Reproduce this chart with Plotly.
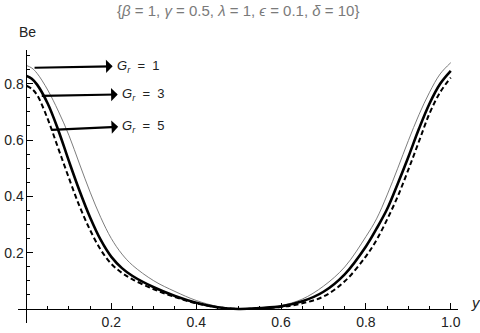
import plotly.graph_objects as go

# y positions across the channel
y_pts = [0, 0.0125, 0.025, 0.05, 0.075, 0.1, 0.125, 0.15, 0.175, 0.2, 0.225, 0.25, 0.3, 0.35, 0.4,
         0.45, 0.5, 0.55, 0.6, 0.65, 0.7, 0.75, 0.8, 0.825, 0.85, 0.875, 0.9, 0.925, 0.95, 0.975, 1.0]

# Bejan number for Gr = 1, 3, 5
be_gr1 = [0.865, 0.856, 0.837, 0.778, 0.703, 0.617, 0.515, 0.415, 0.325, 0.25, 0.195, 0.155, 0.10, 0.062, 0.03,
          0.009, 0.0, 0.004, 0.012, 0.035, 0.081, 0.149, 0.257, 0.32, 0.405, 0.50, 0.598, 0.69, 0.77, 0.835, 0.875]
be_gr3 = [0.828, 0.818, 0.797, 0.73, 0.635, 0.525, 0.42, 0.325, 0.245, 0.185, 0.145, 0.117, 0.077, 0.046, 0.022,
          0.006, 0.0, 0.003, 0.009, 0.027, 0.061, 0.123, 0.222, 0.285, 0.355, 0.445, 0.54, 0.64, 0.73, 0.80, 0.846]
be_gr5 = [0.793, 0.782, 0.76, 0.675, 0.57, 0.465, 0.365, 0.28, 0.21, 0.16, 0.128, 0.105, 0.07, 0.042, 0.02,
          0.006, 0.0, 0.002, 0.007, 0.02, 0.044, 0.098, 0.187, 0.245, 0.318, 0.40, 0.495, 0.595, 0.695, 0.77, 0.822]

x_ticks = [0.2, 0.4, 0.6, 0.8, 1.0]
x_tick_text = ["0.2", "0.4", "0.6", "0.8", "1.0"]
y_ticks = [0.2, 0.4, 0.6, 0.8]
y_tick_text = ["0.2", "0.4", "0.6", "0.8"]
x_minor = [0.05, 0.1, 0.15, 0.25, 0.3, 0.35, 0.45, 0.5, 0.55, 0.65, 0.7, 0.75, 0.85, 0.9, 0.95]
y_minor = [0.05, 0.1, 0.15, 0.25, 0.3, 0.35, 0.45, 0.5, 0.55, 0.65, 0.7, 0.75, 0.85, 0.9]

gr_labels = ["1", "3", "5"]
# arrow tails sit on the curves, labels (with the arrow heads) to the right
arrow_tail = [(0.019, 0.857), (0.036, 0.757), (0.059, 0.636)]
label_pos = [(0.203, 0.862), (0.215, 0.762), (0.216, 0.647)]

xr = [-0.02, 1.017]
yr = [-0.05, 0.92]

fig = go.Figure()
fig.add_trace(go.Scatter(x=y_pts, y=be_gr1, mode="lines", line=dict(color="#6e6e6e", width=0.9, shape="spline")))
fig.add_trace(go.Scatter(x=y_pts, y=be_gr3, mode="lines", line=dict(color="black", width=2.6, shape="spline")))
fig.add_trace(go.Scatter(x=y_pts, y=be_gr5, mode="lines", line=dict(color="black", width=2, dash="5px,3px", shape="spline")))

for (tx, ty), (lx, ly), g in zip(arrow_tail, label_pos, gr_labels):
    fig.add_annotation(x=tx, y=ty, ax=lx, ay=ly, xref="x", yref="y", axref="x", ayref="y",
                       xanchor="left", yanchor="middle", borderpad=3,
                       text="<i>G</i><sub><i>r</i></sub>\u00a0 =\u00a0 " + g,
                       showarrow=True, arrowside="start", arrowhead=2, arrowsize=1.1, arrowwidth=2.2,
                       arrowcolor="black", standoff=0, startstandoff=0,
                       font=dict(family="Liberation Sans", size=13, color="#222"))

fig.add_annotation(x=0.5, y=1.1465, xref="paper", yref="paper", xanchor="center", yanchor="middle",
                   text="{<i>β</i> = 1, <i>γ</i> = 0.5, <i>λ</i> = 1, <i>ϵ</i> = 0.1, <i>δ</i> = 10}",
                   showarrow=False, font=dict(family="Liberation Sans", size=15, color="#7a7a7a"))
fig.add_annotation(x=-0.003, y=1.066, xref="paper", yref="paper", xanchor="left", yanchor="middle",
                   text="Be", showarrow=False, font=dict(family="Liberation Sans", size=14, color="#222"))
fig.add_annotation(x=1.025, y=0.075, xref="paper", yref="paper", xanchor="left", yanchor="middle",
                   text="<i>y</i>", showarrow=False, font=dict(family="Liberation Sans", size=15, color="#222"))

axis_font = dict(family="Liberation Sans", size=14, color="#222")
fig.update_layout(
    width=480, height=333,
    margin=dict(l=18, r=22, t=50, b=10),
    paper_bgcolor="white", plot_bgcolor="white",
    showlegend=False,
    xaxis=dict(range=xr, anchor="free", position=0.05155, showline=True, linecolor="black", linewidth=1,
               showgrid=False, zeroline=False, ticks="inside", ticklen=6, tickcolor="black", automargin=False,
               tickvals=x_ticks, ticktext=x_tick_text, tickfont=axis_font,
               minor=dict(tickvals=x_minor, ticks="inside", ticklen=3, tickcolor="black", showgrid=False)),
    yaxis=dict(range=yr, anchor="free", position=0.01929, showline=True, linecolor="black", linewidth=1,
               showgrid=False, zeroline=False, ticks="inside", ticklen=6, tickcolor="black", automargin=False,
               tickvals=y_ticks, ticktext=y_tick_text, tickfont=axis_font,
               minor=dict(tickvals=y_minor, ticks="inside", ticklen=3, tickcolor="black", showgrid=False)),
)

# the page's default body margin would push the 480x333 figure off the window
fig.write_html("out.html", config={"displayModeBar": False},
               post_script="document.body.style.margin='0px';")
